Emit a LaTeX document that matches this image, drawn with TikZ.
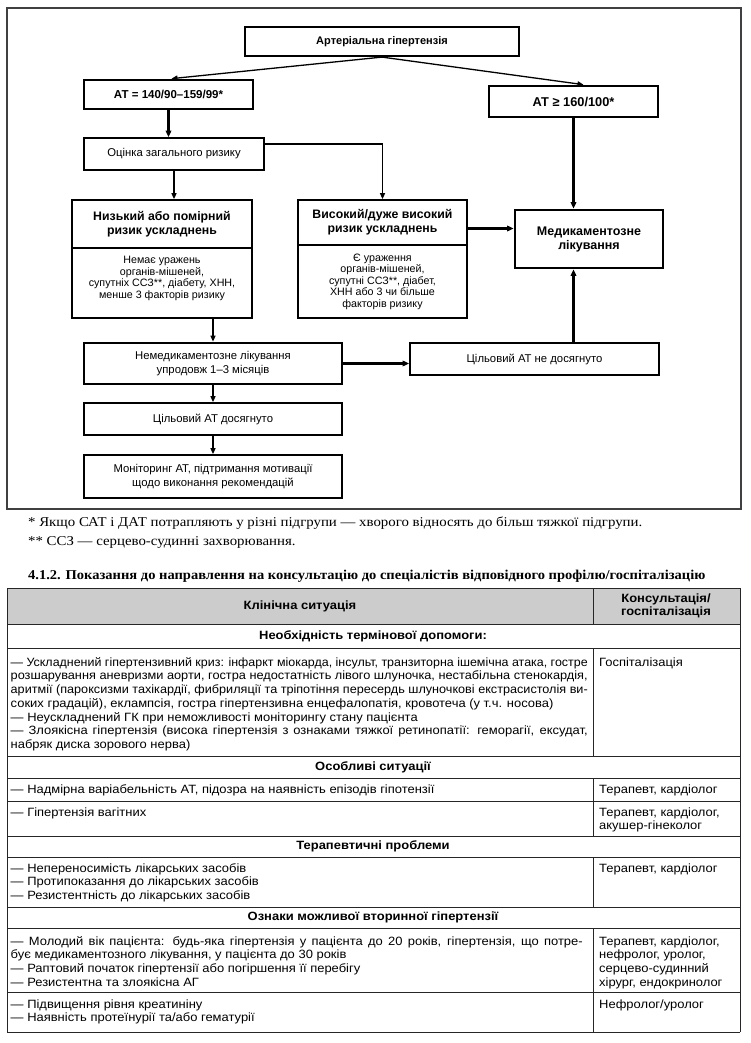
\documentclass[tikz,border=0pt]{standalone}
\usepackage{graphicx}
\usepackage{fontspec}
\setmainfont{Liberation Sans}
\newfontfamily\tblf{Liberation Sans}[FakeStretch=1.08]
\newfontfamily\serf{Liberation Serif}[FakeStretch=1.1]
\newfontfamily\headf{Liberation Serif}[FakeStretch=1.075]
\usetikzlibrary{arrows.meta}
\newlength\jlw
\newcommand\jline[2][577pt]{\settowidth\jlw{#2}\ifdim\jlw>#1\resizebox{#1}{\height}{#2}\else\makebox[#1][s]{#2}\fi}
\begin{document}
\begin{tikzpicture}[x=1pt,y=-1pt,
  fb/.style={draw, line width=1.7pt, inner sep=0pt, align=center, font=\fontsize{11.3}{13.5}\selectfont},
  fbt/.style={fb, line width=2.7pt},
  ftxt/.style={inner sep=0pt, align=center},
  arr/.style={-{Triangle[length=6pt,width=5pt]}, line width=1.3pt},
  tarr/.style={-{Triangle[length=6.5pt,width=5.5pt]}, line width=2.2pt},
  tcell/.style={anchor=north west, inner sep=0pt, align=left, font=\tblf\fontsize{12}{13.7}\selectfont},
  tsec/.style={inner sep=0pt, font=\tblf\bfseries\fontsize{12}{13.7}\selectfont},
  tline/.style={line width=1pt, draw=black!85},
  note/.style={anchor=base west, inner sep=0pt, font=\serf\fontsize{13.5}{15}\selectfont},
]
\useasboundingbox (0,0) rectangle (750,1043);
% frame
\draw[line width=1.1pt, black!75] (7,8) rectangle (741,509);

% flowchart boxes
\node[fb, line width=2.2pt, minimum width=274pt, minimum height=29pt, font=\bfseries\fontsize{11}{13}\selectfont] (top) at (382,41.5) {Артеріальна гіпертензія};
\node[fbt, minimum width=169pt, minimum height=29pt, font=\bfseries\fontsize{11.5}{13}\selectfont] (at1) at (168.5,94.5) {АТ = 140/90–159/99*};
\node[fbt, minimum width=169pt, minimum height=31pt, font=\bfseries\fontsize{12.8}{14}\selectfont] (at2) at (573.5,101.5) {АТ ≥ 160/100*};
\node[fb, minimum width=180pt, minimum height=32pt] (ots) at (174,154) {Оцінка загального ризику};
\node[fb, minimum width=180pt, minimum height=48pt, font=\bfseries\fontsize{12.3}{14}\selectfont] (lowh) at (162,224) {Низький або помірний\\ризик ускладнень};
\node[fb, minimum width=180pt, minimum height=70pt] (lowb) at (162,283) {};
\node[ftxt, font=\fontsize{10.7}{11.7}\selectfont] (lowbt) at (162,278.5) {Немає уражень\\органів-мішеней,\\супутніх ССЗ**, діабету, ХНН,\\менше 3 факторів ризику};
\node[fb, minimum width=169pt, minimum height=45pt, font=\bfseries\fontsize{12.3}{14}\selectfont] (highh) at (382.5,222.5) {Високий/дуже високий\\ризик ускладнень};
\node[fb, minimum width=169pt, minimum height=73pt, font=\fontsize{10.7}{11.5}\selectfont] (highb) at (382.5,281.5) {Є ураження\\органів-мішеней,\\супутні ССЗ**, діабет,\\ХНН або 3 чи більше\\факторів ризику};
\node[fbt, minimum width=148pt, minimum height=58pt, font=\bfseries\fontsize{12.5}{14}\selectfont] (med) at (589,239) {Медикаментозне\\лікування};
\node[fbt, minimum width=258pt, minimum height=41pt] (nemed) at (213,363.5) {Немедикаментозне лікування\\упродовж 1–3 місяців};
\node[fb, minimum width=249pt, minimum height=32pt] (notr) at (534.5,359) {Цільовий АТ не досягнуто};
\node[fb, minimum width=258pt, minimum height=32pt] (reach) at (213,419) {Цільовий АТ досягнуто};
\node[fb, minimum width=258pt, minimum height=43pt] (mon) at (213,476.5) {Моніторинг АТ, підтримання мотивації\\щодо виконання рекомендацій};

% connectors
\draw[arr] (top.south) -- ([xshift=3pt]at1.north);
\draw[arr] (top.south) -- ([xshift=10pt]at2.north);
\draw[tarr] (at1.south) -- (at1.south |- ots.north);
\draw[arr] ([yshift=-7pt]ots.north east) -| (highh.north);
\draw[arr] (ots.south) -- (ots.south |- lowh.north);
\draw[tarr] (at2.south) -- (at2.south |- med.north);
\draw[tarr] ([yshift=-6pt]highh.east) -- ([yshift=-6pt]highh.east -| med.west);
\draw[arr] (lowb.south -| nemed.north) -- (nemed.north);
\draw[tarr] (nemed.east) -- (nemed.east -| notr.west);
\draw[tarr] (notr.north -| at2.south) -- (med.south -| at2.south);
\draw[arr] (nemed.south) -- (reach.north);
\draw[arr] (reach.south) -- (mon.north);

% footnotes and heading
\node[note] (fn1) at (28,526.5) {* Якщо САТ і ДАТ потрапляють у різні підгрупи — хворого відносять до більш тяжкої підгрупи.};
\node[note] (fn2) at (28,545.5) {** ССЗ — серцево-судинні захворювання.};
\node[note, font=\headf\bfseries\fontsize{13.5}{15}\selectfont] (hd) at (28,579.5) {4.1.2. Показання до направлення на консультацію до спеціалістів відповідного профілю/госпіталізацію};

% table
\fill[black!20] (7,588) rectangle (740,624);
\foreach \yy in {588,624,648,756,778,801,836,857,907,928,992,1032}
  \draw[tline] (7,\yy) -- (740,\yy);
\draw[tline] (7,588) -- (7,1032);
\draw[tline] (740,588) -- (740,1032);
\foreach \ya/\yb in {588/624,648/756,778/836,857/907,928/1032}
  \draw[tline] (593,\ya) -- (593,\yb);

\node[tsec] (hc1) at (300,606) {Клінічна ситуація};
\node[tsec, align=center, font=\tblf\bfseries\fontsize{12}{13.5}\selectfont] (hc2) at (666,606) {Консультація/\\госпіталізація};
\node[tsec] (s1) at (373,636) {Необхідність термінової допомоги:};
\node[tsec] (s2) at (373,767) {Особливі ситуації};
\node[tsec] (s3) at (373,846) {Терапевтичні проблеми};
\node[tsec] (s4) at (373,917) {Ознаки можливої вторинної гіпертензії};

\node[tcell] (r1) at (10.5,656) {\rule{0pt}{10pt}\jline{— Ускладнений гіпертензивний криз: інфаркт міокарда, інсульт, транзиторна ішемічна атака, гостре}\\\jline{розшарування аневризми аорти, гостра недостатність лівого шлуночка, нестабільна стенокардія,}\\\jline{аритмії (пароксизми тахікардії, фибриляції та тріпотіння пересердь шлуночкові екстрасистолія ви-}\\соких градацій), еклампсія, гостра гіпертензивна енцефалопатія, кровотеча (у т.ч. носова)\\— Неускладнений ГК при неможливості моніторингу стану пацієнта\\\jline{— Злоякісна гіпертензія (висока гіпертензія з ознаками тяжкої ретинопатії: геморагії, ексудат,}\\набряк диска зорового нерва)};
\node[tcell] (c1) at (599,656) {\rule{0pt}{10pt}Госпіталізація};
\node[tcell] (r2) at (10.5,783) {\rule{0pt}{10pt}— Надмірна варіабельність АТ, підозра на наявність епізодів гіпотензії};
\node[tcell] (c2) at (599,783) {\rule{0pt}{10pt}Терапевт, кардіолог};
\node[tcell] (r3) at (10.5,806) {\rule{0pt}{10pt}— Гіпертензія вагітних};
\node[tcell] (c3) at (599,806) {\rule{0pt}{10pt}Терапевт, кардіолог,\\акушер-гінеколог};
\node[tcell] (r4) at (10.5,862) {\rule{0pt}{10pt}— Непереносимість лікарських засобів\\— Протипоказання до лікарських засобів\\— Резистентність до лікарських засобів};
\node[tcell] (c4) at (599,862) {\rule{0pt}{10pt}Терапевт, кардіолог};
\node[tcell] (r5) at (10.5,935) {\rule{0pt}{10pt}\jline[572pt]{— Молодий вік пацієнта: будь-яка гіпертензія у пацієнта до 20 років, гіпертензія, що потре-}\\бує медикаментозного лікування, у пацієнта до 30 років\\— Раптовий початок гіпертензії або погіршення її перебігу\\— Резистентна та злоякісна АГ};
\node[tcell] (c5) at (599,935) {\rule{0pt}{10pt}Терапевт, кардіолог,\\нефролог, уролог,\\серцево-судинний\\хірург, ендокринолог};
\node[tcell] (r6) at (10.5,998) {\rule{0pt}{10pt}— Підвищення рівня креатиніну\\— Наявність протеїнурії та/або гематурії};
\node[tcell] (c6) at (599,998) {\rule{0pt}{10pt}Нефролог/уролог};
\end{tikzpicture}
\end{document}
